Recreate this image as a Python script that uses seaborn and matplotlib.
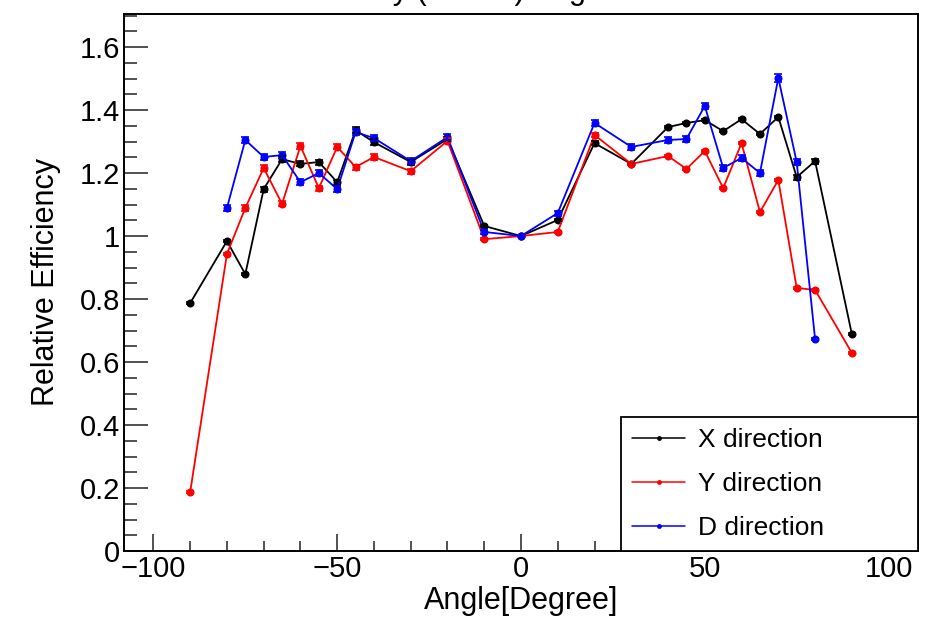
import numpy as np
import pandas as pd
import matplotlib
matplotlib.use("Agg")
import matplotlib.pyplot as plt
from matplotlib.lines import Line2D
from matplotlib.ticker import MultipleLocator, FuncFormatter
import seaborn as sns

# ---- data ----
angles_xy = [-90, -80, -75, -70, -65, -60, -55, -50, -45, -40, -30, -20, -10, 0,
             10, 20, 30, 40, 45, 50, 55, 60, 65, 70, 75, 80, 90]
x_dir = [0.787, 0.984, 0.879, 1.149, 1.244, 1.229, 1.235, 1.171, 1.336, 1.298, 1.235, 1.308, 1.032, 1.0,
         1.051, 1.295, 1.229, 1.346, 1.359, 1.368, 1.333, 1.371, 1.324, 1.378, 1.187, 1.238, 0.689]
x_err = [0.002, 0.003, 0.003, 0.008, 0.009, 0.008, 0.008, 0.008, 0.009, 0.009, 0.008, 0.008, 0.004, 0.0,
         0.004, 0.006, 0.004, 0.004, 0.004, 0.004, 0.004, 0.004, 0.004, 0.004, 0.008, 0.008, 0.003]
y_dir = [0.187, 0.943, 1.089, 1.216, 1.102, 1.286, 1.152, 1.283, 1.219, 1.251, 1.206, 1.302, 0.990, 1.0,
         1.013, 1.321, 1.229, 1.254, 1.213, 1.270, 1.152, 1.295, 1.076, 1.178, 0.835, 0.829, 0.629]
y_err = [0.002, 0.003, 0.008, 0.008, 0.008, 0.009, 0.008, 0.008, 0.008, 0.008, 0.008, 0.008, 0.004, 0.0,
         0.004, 0.006, 0.004, 0.004, 0.004, 0.004, 0.004, 0.004, 0.004, 0.004, 0.004, 0.004, 0.003]
angles_d = [-80, -75, -70, -65, -60, -55, -50, -45, -40, -30, -20, -10, 0,
            10, 20, 30, 40, 45, 50, 55, 60, 65, 70, 75, 80]
d_dir = [1.089, 1.305, 1.251, 1.257, 1.171, 1.200, 1.149, 1.330, 1.311, 1.238, 1.314, 1.013, 1.0,
         1.073, 1.359, 1.283, 1.305, 1.308, 1.413, 1.216, 1.248, 1.200, 1.502, 1.235, 0.673]
d_err = [0.009, 0.009, 0.009, 0.009, 0.009, 0.009, 0.009, 0.009, 0.009, 0.009, 0.009, 0.007, 0.0,
         0.008, 0.009, 0.009, 0.009, 0.009, 0.010, 0.009, 0.009, 0.009, 0.012, 0.009, 0.004]
series_names = ["X direction", "Y direction", "D direction"]
series_colors = ["black", "red", "blue"]

df = pd.concat([
    pd.DataFrame({"angle": angles_xy, "eff": x_dir, "err": x_err, "series": series_names[0]}),
    pd.DataFrame({"angle": angles_xy, "eff": y_dir, "err": y_err, "series": series_names[1]}),
    pd.DataFrame({"angle": angles_d, "eff": d_dir, "err": d_err, "series": series_names[2]}),
], ignore_index=True)

sns.set_style("ticks")
plt.rcParams["font.family"] = ["Liberation Sans", "DejaVu Sans"]
plt.rcParams["axes.unicode_minus"] = True
for k in ["text.color", "axes.labelcolor", "xtick.color", "ytick.color",
          "xtick.labelcolor", "ytick.labelcolor", "axes.edgecolor"]:
    plt.rcParams[k] = "black"

fig = plt.figure(figsize=(9.3, 6.22), dpi=100)
ax = fig.add_axes([124 / 930, 1 - 551 / 622, (918 - 124) / 930, (551 - 14) / 622])

palette = dict(zip(series_names, series_colors))
sns.lineplot(data=df, x="angle", y="eff", hue="series", palette=palette, sort=False,
             marker="o", markersize=5.8, markeredgewidth=0, linewidth=1.3,
             estimator=None, errorbar=None, legend=False, ax=ax)
for name, col in zip(series_names, series_colors):
    sub = df[df["series"] == name]
    ax.errorbar(sub["angle"], sub["eff"], yerr=sub["err"], fmt="none", ecolor=col,
                elinewidth=1.2, capsize=2.8, capthick=1.2)

ax.set_xlim(-108, 108)
ax.set_ylim(0, 1.705)
ax.xaxis.set_major_locator(MultipleLocator(50))
ax.xaxis.set_minor_locator(MultipleLocator(10))
ax.yaxis.set_major_locator(MultipleLocator(0.2))
ax.yaxis.set_minor_locator(MultipleLocator(0.05))
fmt = FuncFormatter(lambda v, p: ("%g" % round(v, 6)).replace("-", "\u2212"))
ax.xaxis.set_major_formatter(fmt)
ax.yaxis.set_major_formatter(fmt)

ax.tick_params(axis="both", which="both", direction="in", top=False, right=False,
               labelsize=21, width=1.1, color="#222222")
ax.tick_params(axis="x", which="major", length=12, pad=3)
ax.tick_params(axis="x", which="minor", length=7)
ax.tick_params(axis="y", which="major", length=17, pad=3)
ax.tick_params(axis="y", which="minor", length=9)
for s in ax.spines.values():
    s.set_linewidth(1.4)
    s.set_color("black")

ax.set_xlabel("Angle[Degree]", fontsize=22, labelpad=2)
ax.set_ylabel("Relative Efficiency", fontsize=22, labelpad=13)

handles = [Line2D([], [], color=c, marker="o", markersize=3.5, markeredgewidth=0, linewidth=1.1)
           for c in series_colors]
leg = ax.legend(handles, series_names, loc="lower left",
                bbox_to_anchor=(0.626, 0.0, 0.374, 0.25), mode="expand",
                fontsize=19, frameon=True, fancybox=False, edgecolor="black",
                framealpha=1, borderpad=0.42, labelspacing=0.75, handlelength=2.0,
                handletextpad=0.5, borderaxespad=0)
leg.get_frame().set_linewidth(1.3)

fig.text(160 / 930, 1.002, "Relative Efficiency (MPPC) Angle", fontsize=22,
         ha="left", va="baseline")

fig.savefig("out.png", dpi=100)
